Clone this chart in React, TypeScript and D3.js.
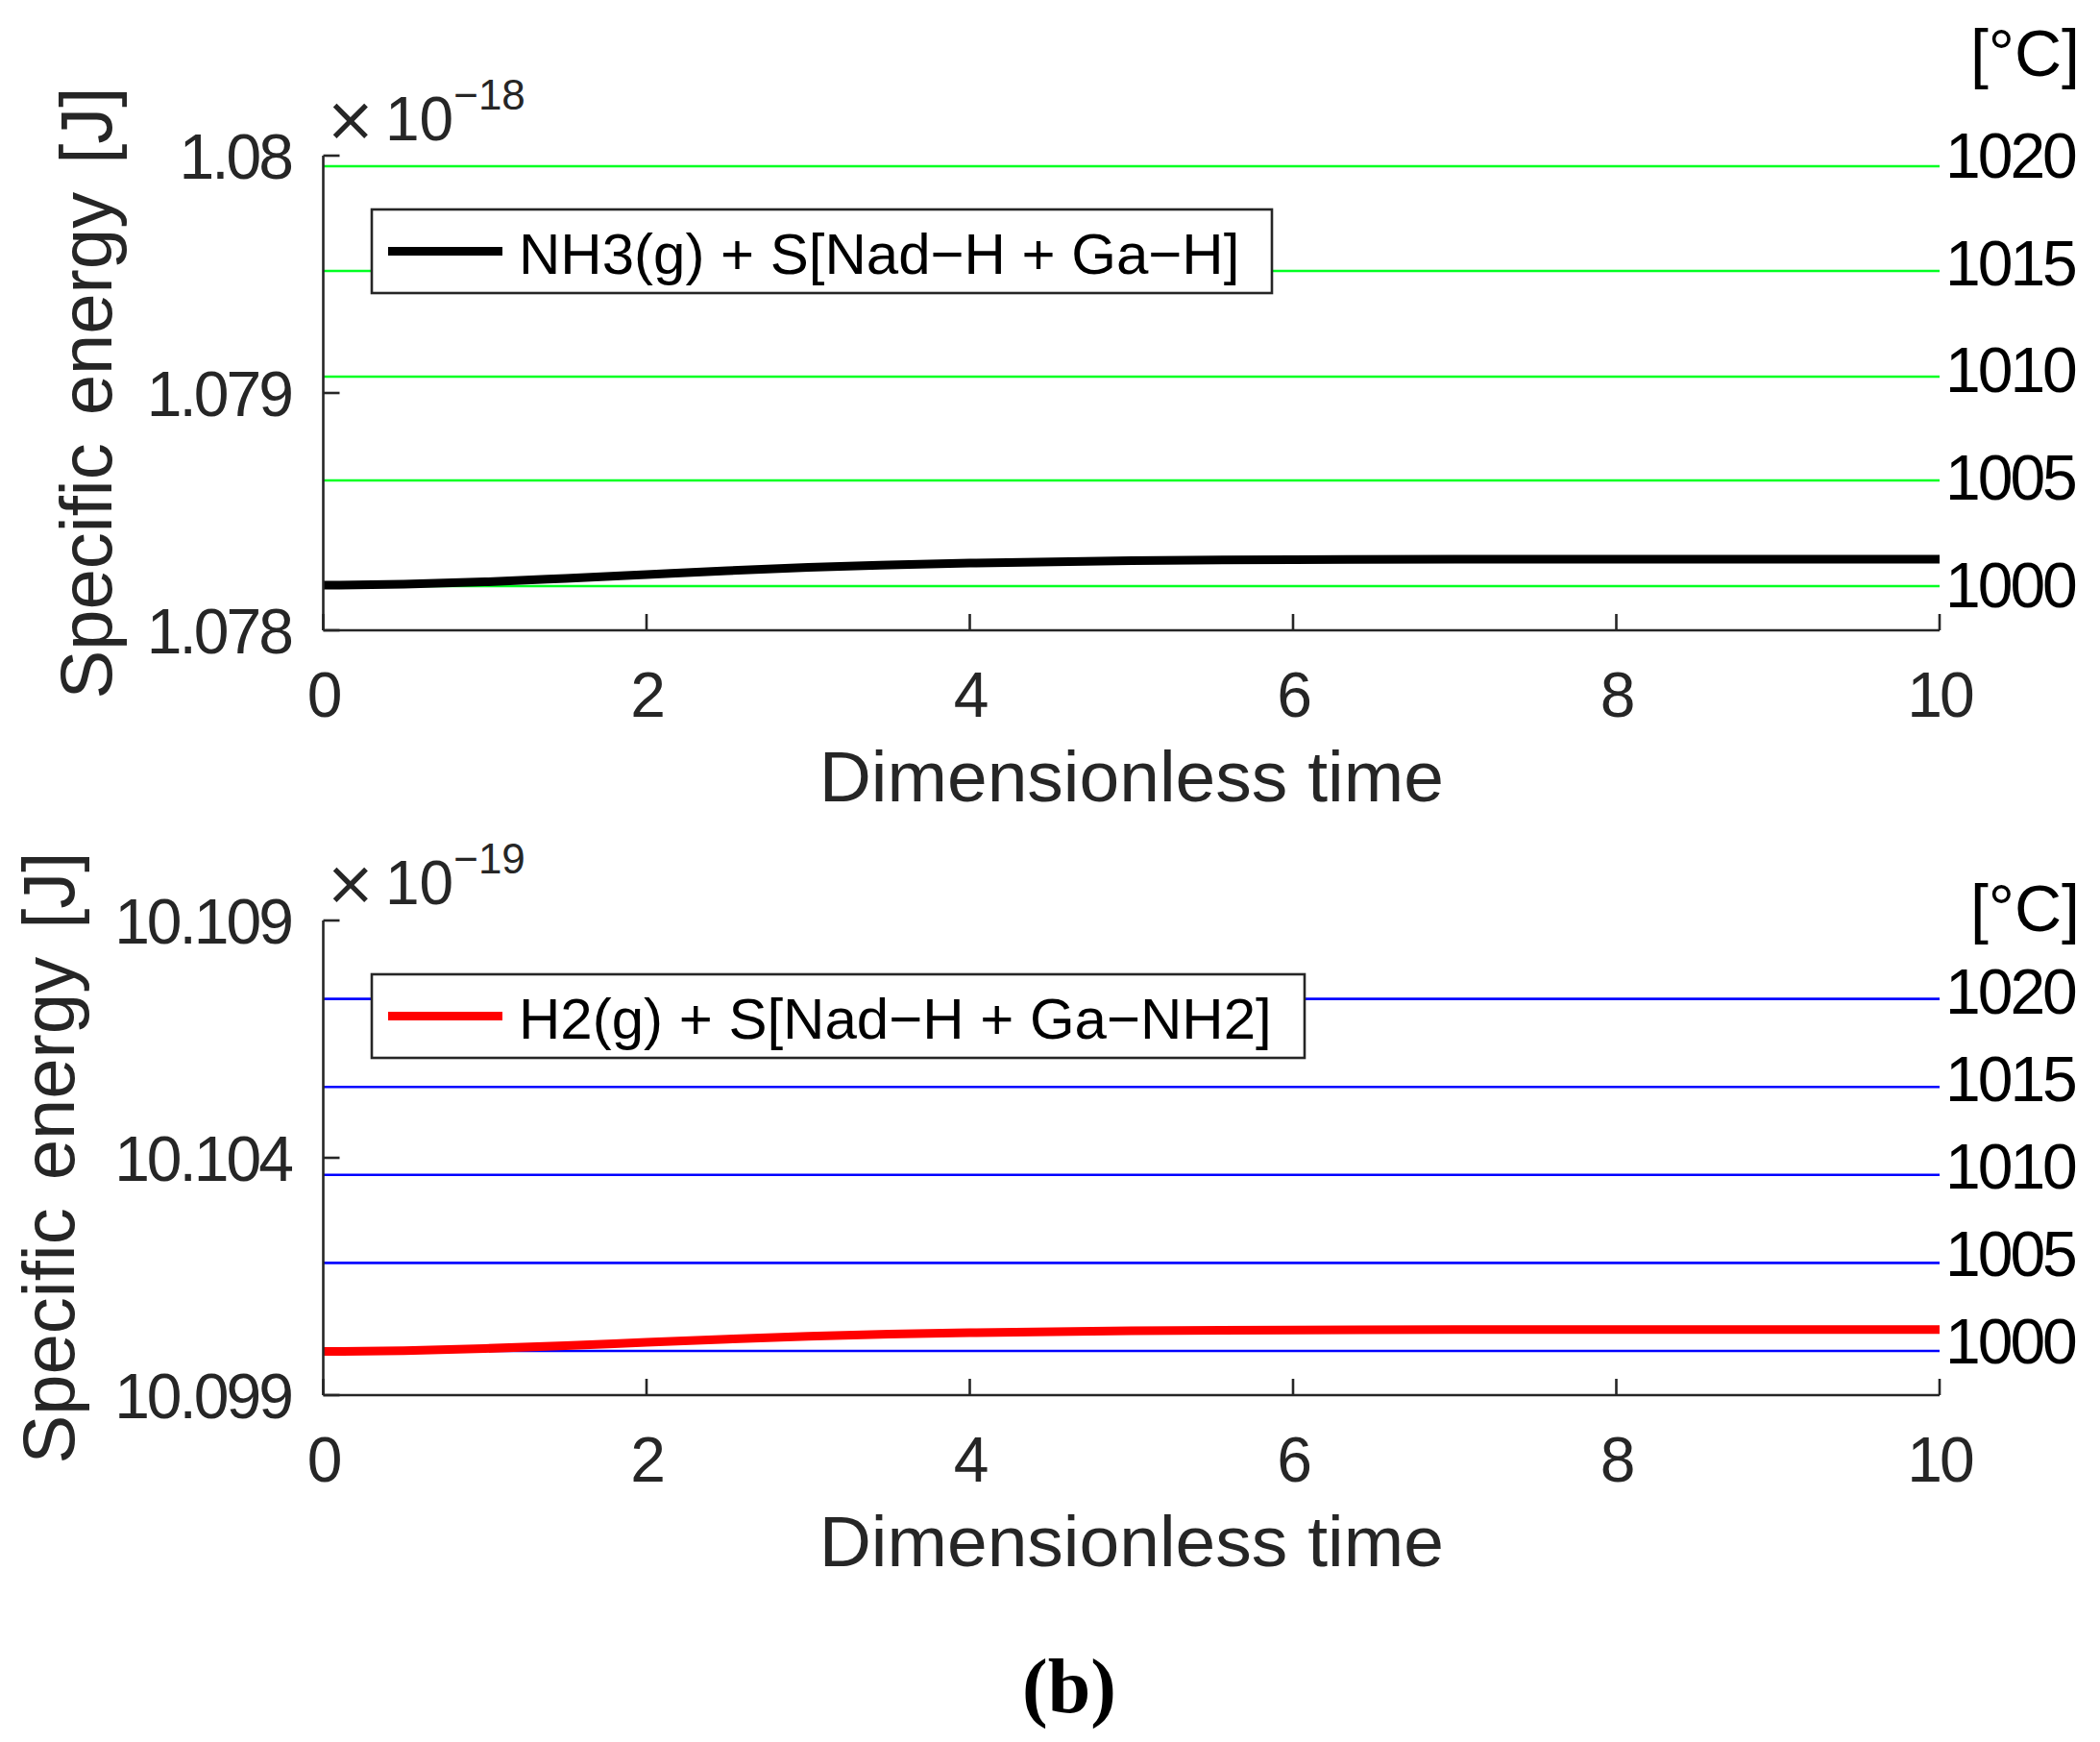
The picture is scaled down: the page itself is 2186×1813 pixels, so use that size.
import React from "react";
import * as d3 from "d3";

// ---------- data ----------
const time = [0, 0.5, 1, 1.5, 2, 2.5, 3, 3.5, 4, 5, 6, 7, 8, 9, 10];
const energyNH3 = [1.07819, 1.078194, 1.078204, 1.078219, 1.078235, 1.078251, 1.078265, 1.078275, 1.078283, 1.078294, 1.078298, 1.0783, 1.0783, 1.0783, 1.0783];
const energyH2 = [10.099921, 10.099937, 10.099982, 10.100043, 10.100113, 10.10018, 10.100241, 10.100285, 10.100316, 10.100356, 10.100372, 10.100381, 10.100383, 10.100383, 10.100383];
const xTicks = [0, 2, 4, 6, 8, 10];
const yTicksTop = [1.078, 1.079, 1.08];
const yTickLabelsTop = ["1.078", "1.079", "1.08"];
const yTicksBottom = [10.099, 10.104, 10.109];
const yTickLabelsBottom = ["10.099", "10.104", "10.109"];
const tempTicks = [1000, 1005, 1010, 1015, 1020];
const tempEnergyTop = [1.0781862, 1.0786316, 1.0790688, 1.0795142, 1.0799555];
const tempEnergyBottom = [10.0999312, 10.1017854, 10.1036397, 10.105494, 10.107348];
const legendTop = "NH3(g) + S[Nad\u2212H + Ga\u2212H]";
const legendBottom = "H2(g) + S[Nad\u2212H + Ga\u2212NH2]";
const exponentTop = "\u221218";
const exponentBottom = "\u221219";
const yLabel = "Specific energy [J]";
const xLabel = "Dimensionless time";
const tempUnit = "[\u00b0C]";
const panelTag = "(b)";

// ---------- layout ----------
const W = 2186;
const H = 1813;
const X0 = 336.5;
const X1 = 2019;
const FONT = "'Liberation Sans', Arial, Helvetica, sans-serif";
const AX = "#262626";

type PanelCfg = {
  top: number;
  bottom: number;
  yDomain: [number, number];
  tDomain: [number, number];
  yTicks: number[];
  yTickLabels: string[];
  energy: number[];
  tempEnergy: number[];
  color: string;
  tempColor: string;
  legend: string;
  legendRight: number;
  exponent: string;
  expBaseline: number;
  yLabelX: number;
  unitBaseline: number;
};

const panels: PanelCfg[] = [
  {
    top: 162,
    bottom: 656,
    yDomain: [1.078, 1.08],
    tDomain: [997.85, 1019.95],
    yTicks: yTicksTop,
    yTickLabels: yTickLabelsTop,
    energy: energyNH3,
    tempEnergy: tempEnergyTop,
    color: "#000000",
    tempColor: "#00ff22",
    legend: legendTop,
    legendRight: 1324,
    exponent: exponentTop,
    expBaseline: 146,
    yLabelX: 116,
    unitBaseline: 79,
  },
  {
    top: 958,
    bottom: 1452,
    yDomain: [10.099, 10.109],
    tDomain: [996.87, 1023.98],
    yTicks: yTicksBottom,
    yTickLabels: yTickLabelsBottom,
    energy: energyH2,
    tempEnergy: tempEnergyBottom,
    color: "#ff0000",
    tempColor: "#0000ff",
    legend: legendBottom,
    legendRight: 1358,
    exponent: exponentBottom,
    expBaseline: 941,
    yLabelX: 77,
    unitBaseline: 969,
  },
];

function Panel({ cfg }: { cfg: PanelCfg }) {
  const x = d3.scaleLinear().domain([0, 10]).range([X0, X1]);
  const y = d3.scaleLinear().domain(cfg.yDomain).range([cfg.bottom, cfg.top]);
  const t = d3.scaleLinear().domain(cfg.tDomain).range([cfg.bottom, cfg.top]);
  const line = d3
    .line<number>()
    .x((_, i) => x(time[i]))
    .y((d) => y(d))
    .curve(d3.curveMonotoneX);
  const tickLen = 17;
  const legTop = cfg.top + 56;
  const legH = 87;
  const legMid = legTop + legH / 2;
  const midY = (cfg.top + cfg.bottom) / 2;
  return (
    <g>
      {/* temperature reference lines */}
      {cfg.tempEnergy.map((e, i) => (
        <line key={"tl" + i} x1={X0} x2={X1} y1={y(e)} y2={y(e)} stroke={cfg.tempColor} strokeWidth={2.6} />
      ))}
      {/* data line */}
      <path d={line(cfg.energy) || ""} fill="none" stroke={cfg.color} strokeWidth={9} />
      {/* axes */}
      <line x1={X0} x2={X0} y1={cfg.top} y2={cfg.bottom} stroke={AX} strokeWidth={2.6} />
      <line x1={X0} x2={X1} y1={cfg.bottom} y2={cfg.bottom} stroke={AX} strokeWidth={2.6} />
      {xTicks.map((v) => (
        <g key={"xt" + v}>
          <line x1={x(v)} x2={x(v)} y1={cfg.bottom} y2={cfg.bottom - tickLen} stroke={AX} strokeWidth={2.6} />
          <text x={x(v)} y={cfg.bottom + 90} textAnchor="middle" fontSize={66} letterSpacing={-3} fill={AX} fontFamily={FONT}>
            {String(v)}
          </text>
        </g>
      ))}
      {cfg.yTicks.map((v, i) => (
        <g key={"yt" + i}>
          <line x1={X0} x2={X0 + tickLen} y1={y(v)} y2={y(v)} stroke={AX} strokeWidth={2.6} />
          <text x={303} y={y(v) + 24} textAnchor="end" fontSize={66} letterSpacing={-3} fill={AX} fontFamily={FONT}>
            {cfg.yTickLabels[i]}
          </text>
        </g>
      ))}
      {/* right temperature labels */}
      {tempTicks.map((v) => (
        <text key={"rt" + v} x={2025} y={t(v) + 24} fontSize={66} letterSpacing={-3} fill="#000" fontFamily={FONT}>
          {String(v)}
        </text>
      ))}
      <text x={2165} y={cfg.unitBaseline} textAnchor="end" fontSize={68} fill="#000" fontFamily={FONT}>
        {tempUnit}
      </text>
      {/* exponent */}
      <text x={338} y={cfg.expBaseline} fontSize={64} fill={AX} fontFamily="'DejaVu Sans', sans-serif">
        {"\u00d7"}
      </text>
      <text x={401} y={cfg.expBaseline} fontSize={64} fill={AX} fontFamily={FONT}>
        10
        <tspan fontSize={44} dy={-32}>{cfg.exponent}</tspan>
      </text>
      {/* axis labels */}
      <text x={(X0 + X1) / 2} y={cfg.bottom + 178} textAnchor="middle" fontSize={75} fill={AX} fontFamily={FONT}>
        {xLabel}
      </text>
      <text
        transform={`translate(${cfg.yLabelX},${midY}) rotate(-90)`}
        textAnchor="middle"
        fontSize={76}
        wordSpacing={8}
        fill={AX}
        fontFamily={FONT}
      >
        {yLabel}
      </text>
      {/* legend */}
      <rect x={387} y={legTop} width={cfg.legendRight - 387} height={legH} fill="#fff" stroke={AX} strokeWidth={2.6} />
      <line x1={404} x2={523} y1={legMid} y2={legMid} stroke={cfg.color} strokeWidth={9} />
      <text x={540} y={legMid + 23} fontSize={60} fill="#000" fontFamily={FONT}>
        {cfg.legend}
      </text>
    </g>
  );
}

export default function App() {
  return (
    <svg
      width={W}
      height={H}
      viewBox={`0 0 ${W} ${H}`}
      style={{ position: "absolute", left: 0, top: 0, background: "#fff" }}
    >
      <rect x={0} y={0} width={W} height={H} fill="#fff" />
      {panels.map((p, i) => (
        <Panel key={i} cfg={p} />
      ))}
      <text x={1113} y={1782} textAnchor="middle" fontSize={80} fontWeight="bold" fill="#000" fontFamily="'Liberation Serif', 'Times New Roman', serif">
        {panelTag}
      </text>
    </svg>
  );
}
